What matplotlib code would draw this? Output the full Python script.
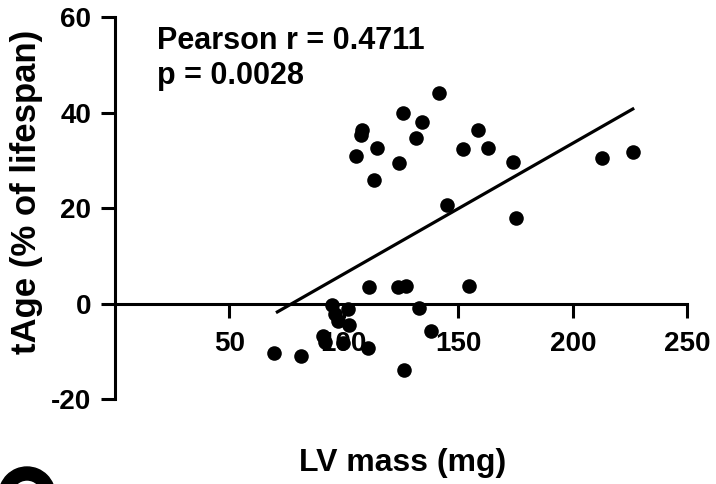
import numpy as np
from matplotlib import pyplot as plt
from matplotlib.patches import Wedge
from matplotlib.transforms import IdentityTransform

plt.rcParams['font.family'] = ['Liberation Sans', 'DejaVu Sans']
plt.rcParams['font.weight'] = 'bold'
plt.rcParams['axes.unicode_minus'] = False

# LV mass (mg) vs tAge (% of lifespan)
lv_mass = [69.5, 81.3, 91.0, 91.8, 94.7, 96.2, 97.6, 99.8, 102.0, 102.4,
           110.5, 105.3, 107.5, 108.1, 111.2, 113.3, 114.3, 123.5, 124.2, 126.0,
           126.4, 127.0, 131.5, 133.0, 134.0, 137.9, 141.6, 144.9, 152.2, 154.6,
           158.7, 163.0, 173.8, 175.4, 212.9, 226.2]
t_age = [-10.4, -11.0, -6.7, -8.0, -0.4, -2.2, -3.7, -8.3, -1.2, -4.5,
         -9.4, 30.9, 35.3, 36.3, 3.4, 26.0, 32.5, 3.4, 29.4, 39.9,
         -13.9, 3.6, 34.7, -0.9, 38.1, -5.8, 44.2, 20.6, 32.4, 3.6,
         36.4, 32.7, 29.7, 17.9, 30.6, 31.7]

# regression line as drawn
fit_slope = 0.274
fit_intercept = -21.2
fit_x = [71.0, 226.2]

x_ticks = [50, 100, 150, 200, 250]
y_ticks = [-20, 0, 20, 40, 60]

fig = plt.figure(figsize=(7.16, 4.84), dpi=100)
ax = fig.add_axes([0.1603, 0.1756, 0.7996, 0.7887])

ax.scatter(lv_mass, t_age, s=110, color='black', zorder=3, clip_on=False, linewidths=0)
line_x = np.array(fit_x)
ax.plot(line_x, fit_slope * line_x + fit_intercept, color='black', lw=2.3, zorder=3)

ax.set_xlim(0, 250)
ax.set_ylim(-20, 60)
ax.spines['top'].set_visible(False)
ax.spines['right'].set_visible(False)
ax.spines['bottom'].set_position(('data', 0))
for sp in ['left', 'bottom']:
    ax.spines[sp].set_linewidth(2.2)

ax.set_xticks(x_ticks)
ax.set_yticks(y_ticks)
ax.tick_params(axis='both', direction='out', length=10, width=2.2, labelsize=20)
ax.tick_params(axis='x', pad=10)
ax.tick_params(axis='y', pad=7)
for lab in ax.get_xticklabels() + ax.get_yticklabels():
    lab.set_fontweight('bold')

ax.text(0.073, 0.978, 'Pearson r = 0.4711\np = 0.0028', transform=ax.transAxes,
        ha='left', va='top', fontsize=22, fontweight='bold', linespacing=1.22)

fig.text(403 / 716, 1 - 463 / 484, 'LV mass (mg)', ha='center', va='center',
         fontsize=23, fontweight='bold')
fig.text(27 / 716, 1 - 192 / 484, 'tAge (% of lifespan)', ha='center', va='center',
         rotation=90, fontsize=25, fontweight='bold')

# top of the next panel's letter, cut off at the bottom edge
fig.add_artist(Wedge((27, -11), 28, 0, 360, width=13, color='black',
                     transform=IdentityTransform()))

fig.savefig('out.png', dpi=100)
